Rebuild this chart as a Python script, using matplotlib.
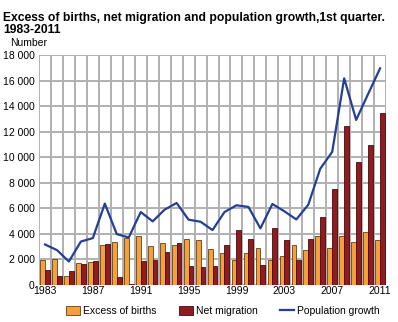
import numpy as np
import matplotlib
matplotlib.use("Agg")
import matplotlib.pyplot as plt
from matplotlib.ticker import FuncFormatter

plt.rcParams["font.family"] = ["Liberation Sans", "DejaVu Sans"]

years = list(range(1983, 2012))
excess_births = [1960, 2020, 730, 1700, 1780, 3120, 3350, 3670, 3800, 3040,
                 3280, 3120, 3590, 3510, 2830, 2540, 1970, 2520, 2880, 1940,
                 2280, 3150, 2730, 3800, 2880, 3800, 3360, 4140, 3540]
net_migration = [1180, 710, 1100, 1650, 1910, 3200, 600, 100, 1910, 1970,
                 2600, 3300, 1520, 1440, 1470, 3150, 4270, 3620, 1550, 4430,
                 3510, 1970, 3620, 5350, 7530, 12470, 9650, 10930, 13470]
pop_growth = [3170, 2730, 1840, 3400, 3670, 6370, 3980, 3720, 5710, 4980,
              5900, 6420, 5110, 4950, 4300, 5710, 6240, 6110, 4430, 6340,
              5770, 5130, 6280, 9100, 10420, 16180, 12920, 14950, 16960]
tick_years = [1983, 1987, 1991, 1995, 1999, 2003, 2007, 2011]

fig = plt.figure(figsize=(3.98, 3.22), dpi=100)
ax = fig.add_axes([0.098, 0.115, 0.872, 0.714])

x = np.arange(len(years))
yticks = list(range(0, 18001, 2000))
cell_edges = np.arange(-0.5, len(years))

# rutenett
ax.hlines(yticks, -0.5, len(years) - 0.5, colors="#b2b2b2", linewidth=1.4,
          antialiased=False, zorder=1)
ax.vlines(cell_edges, 0, 18000, colors="#b2b2b2", linewidth=1.4,
          antialiased=False, zorder=1)

w = 0.4
b1 = ax.bar(x - w / 2, excess_births, w, color="#f7a03a", edgecolor="#5c4020",
            linewidth=0.6, label="Excess of births", zorder=2)
b2 = ax.bar(x + w / 2, net_migration, w, color="#931b1f", edgecolor="#3a1010",
            linewidth=0.6, label="Net migration", zorder=2)
l1, = ax.plot(x, pop_growth, color="#233f96", linewidth=1.6,
              label="Population growth", zorder=3)

ax.set_xlim(-0.5, len(years) - 0.5)
ax.set_ylim(0, 18000)
ax.set_yticks(yticks)
ax.yaxis.set_major_formatter(FuncFormatter(lambda v, p: f"{int(v):,}".replace(",", " ")))
ax.set_xticks([years.index(y) for y in tick_years])
ax.set_xticklabels([str(y) for y in tick_years])

ax.tick_params(axis="both", length=0, labelsize=7.5, colors="black")
ax.tick_params(axis="x", pad=1)
ax.tick_params(axis="y", pad=3)
for s in ax.spines.values():
    s.set_visible(False)

fig.text(0.008, 0.962, "Excess of births, net migration and population growth,1st quarter.\n1983-2011",
         fontsize=8.7, fontweight="bold", va="top", ha="left", linespacing=1.0)
fig.text(0.025, 0.868, "Number", fontsize=7.5, va="center", ha="left")

fig.legend(handles=[b1, b2, l1], loc="lower center", bbox_to_anchor=(0.56, -0.01),
           ncol=3, frameon=False, fontsize=7.5, handlelength=1.3, handleheight=1.0,
           columnspacing=2.2, handletextpad=0.3)

fig.savefig("out.png", dpi=100)
